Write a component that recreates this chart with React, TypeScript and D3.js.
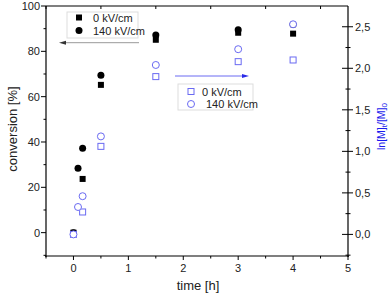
import * as d3 from "d3";

// black (left axis): conversion [%]
const time0 = [0, 0.167, 0.5, 1.5, 3, 4];
const conv0 = [0, 23.7, 65.2, 85.1, 88.2, 87.8];
const time140 = [0, 0.083, 0.167, 0.5, 1.5, 3, 4];
const conv140 = [0, 28.4, 37.2, 69.4, 87.2, 89.5, 91.8];

// blue (right axis): ln[M]t/[M]0
const ln0 = [0, 0.27, 1.06, 1.9, 2.08, 2.1];
const ln140 = [0, 0.33, 0.46, 1.18, 2.04, 2.23, 2.53];

const xTicks = [0, 1, 2, 3, 4, 5];
const leftTicks = [0, 20, 40, 60, 80, 100];
const rightTicks = [0, 0.5, 1, 1.5, 2, 2.5];
const legendLabels = ["0 kV/cm", "140 kV/cm"];

const W = 392;
const H = 296;
const m = { left: 46, right: 44, top: 6, bottom: 40 };
const BLUE = "#6a6af2";
const FONT = "Liberation Sans, Arial, sans-serif";

export default function App() {
  const x = d3.scaleLinear().domain([-0.5, 5]).range([m.left, W - m.right]);
  const yL = d3.scaleLinear().domain([-10.3, 100]).range([H - m.bottom, m.top]);
  const yR = d3.scaleLinear().domain([-0.26, 2.75]).range([H - m.bottom, m.top]);
  const x0 = m.left;
  const x1 = W - m.right;
  const y0 = H - m.bottom;
  const y1 = m.top;

  const xMinor = d3.range(-0.5, 5.01, 0.5).filter((v) => !xTicks.includes(v));
  const leftMinor = d3.range(-10, 100, 20);
  const rightMinor = d3.range(-0.25, 2.75, 0.5);

  const sq = 6;
  const r = 3.5;

  return (
    <svg width={W} height={H} style={{ position: "absolute", left: 0, top: 0 }} fontFamily={FONT}>
      <rect width={W} height={H} fill="white" />

      {/* filled markers */}
      {time0.map((t, i) => (
        <rect key={"s" + i} x={x(t) - sq / 2} y={yL(conv0[i]) - sq / 2} width={sq} height={sq} fill="black" />
      ))}
      {time140.map((t, i) => (
        <circle key={"c" + i} cx={x(t)} cy={yL(conv140[i])} r={r} fill="black" />
      ))}

      {/* open markers */}
      {time0.map((t, i) => (
        <rect key={"os" + i} x={x(t) - sq / 2} y={yR(ln0[i]) - sq / 2} width={sq} height={sq} fill="white" stroke={BLUE} strokeWidth={1} />
      ))}
      {time140.map((t, i) => (
        <circle key={"oc" + i} cx={x(t)} cy={yR(ln140[i])} r={r} fill="white" stroke={BLUE} strokeWidth={1} />
      ))}

      {/* frame */}
      <g stroke="black" strokeWidth={1.2} fill="none">
        <line x1={x0} x2={x0} y1={y1} y2={y0 + 1} />
        <line x1={x1} x2={x1} y1={y1} y2={y0 + 1} />
        <line x1={x0 - 1} x2={x1 + 1} y1={y0} y2={y0} />
        <line x1={x0} x2={x1} y1={y1} y2={y1} />
      </g>

      {/* bottom axis */}
      <g stroke="black" strokeWidth={1}>
        {xTicks.map((v) => (
          <line key={v} x1={x(v)} x2={x(v)} y1={y0} y2={y0 + 4} />
        ))}
        {xMinor.map((v) => (
          <line key={v} x1={x(v)} x2={x(v)} y1={y0} y2={y0 + 2.5} />
        ))}
        {xMinor.map((v) => (
          <line key={"t" + v} x1={x(v)} x2={x(v)} y1={y1} y2={y1 + 3} />
        ))}
      </g>
      <g fontSize={11} textAnchor="middle" fill="#222">
        {xTicks.map((v) => (
          <text key={v} x={x(v)} y={y0 + 16}>
            {d3.format("d")(v)}
          </text>
        ))}
      </g>

      {/* left axis */}
      <g stroke="black" strokeWidth={1}>
        {leftTicks.map((v) => (
          <line key={v} x1={x0 - 5} x2={x0} y1={yL(v)} y2={yL(v)} />
        ))}
        {leftMinor.map((v) => (
          <line key={v} x1={x0 - 2.5} x2={x0} y1={yL(v)} y2={yL(v)} />
        ))}
      </g>
      <g fontSize={11} textAnchor="end" fill="#222">
        {leftTicks.map((v) => (
          <text key={v} x={x0 - 6} y={yL(v) + 4}>
            {v}
          </text>
        ))}
      </g>

      {/* right axis */}
      <g stroke="black" strokeWidth={1}>
        {rightTicks.map((v) => (
          <line key={v} x1={x1 - 6} x2={x1 + 5} y1={yR(v)} y2={yR(v)} />
        ))}
        {rightMinor.map((v) => (
          <line key={v} x1={x1 - 2.5} x2={x1 + 2.5} y1={yR(v)} y2={yR(v)} />
        ))}
      </g>
      <g fontSize={11} textAnchor="start" fill="#222">
        {rightTicks.map((v) => (
          <text key={v} x={x1 + 7} y={yR(v) + 4}>
            {d3.format(".1f")(v).replace(".", ",")}
          </text>
        ))}
      </g>

      {/* axis titles */}
      <text x={(x0 + x1) / 2 + 1} y={290} fontSize={13} textAnchor="middle" fill="#222">
        time [h]
      </text>
      <text transform={`translate(17,${(y0 + y1) / 2 - 2}) rotate(-90)`} fontSize={13} textAnchor="middle" fill="#222">
        conversion [%]
      </text>
      <text transform="translate(384.5,150) rotate(-90)" fontSize={10.5} textAnchor="start" fill="#1a1aee">
        ln[M]<tspan fontSize={8} dy={2.5}>t</tspan>
        <tspan dy={-2.5}>/[M]</tspan>
        <tspan fontSize={8} dy={2.5}>0</tspan>
      </text>

      {/* legend 1 */}
      <rect x={67} y={12} width={71} height={26} fill="white" stroke="#ddd" strokeWidth={1} />
      <rect x={79 - 3} y={17.5 - 3} width={6} height={6} fill="black" />
      <circle cx={79} cy={30.5} r={3.5} fill="black" />
      <g fontSize={11} fill="#222">
        <text x={93} y={21.5}>{legendLabels[0]}</text>
        <text x={93} y={34.5}>{legendLabels[1]}</text>
      </g>

      {/* legend 2 */}
      <rect x={178} y={84} width={75} height={26} fill="white" stroke="#ddd" strokeWidth={1} />
      <rect x={191 - 3} y={91.5 - 3} width={6} height={6} fill="white" stroke={BLUE} />
      <circle cx={191} cy={104} r={3.5} fill="white" stroke={BLUE} />
      <g fontSize={11} fill="#222">
        <text x={202} y={95.5}>{legendLabels[0]}</text>
        <text x={206} y={108}>{legendLabels[1]}</text>
      </g>

      {/* arrows */}
      <line x1={139} x2={64} y1={42.7} y2={42.7} stroke="#999" strokeWidth={1} />
      <path d="M59,42.7 L66,40.7 L66,44.7 Z" fill="#333" />
      <line x1={175} x2={244} y1={76} y2={76} stroke={BLUE} strokeWidth={1} />
      <path d="M249,76 L242,74 L242,78 Z" fill="#2a2ae8" />
    </svg>
  );
}
